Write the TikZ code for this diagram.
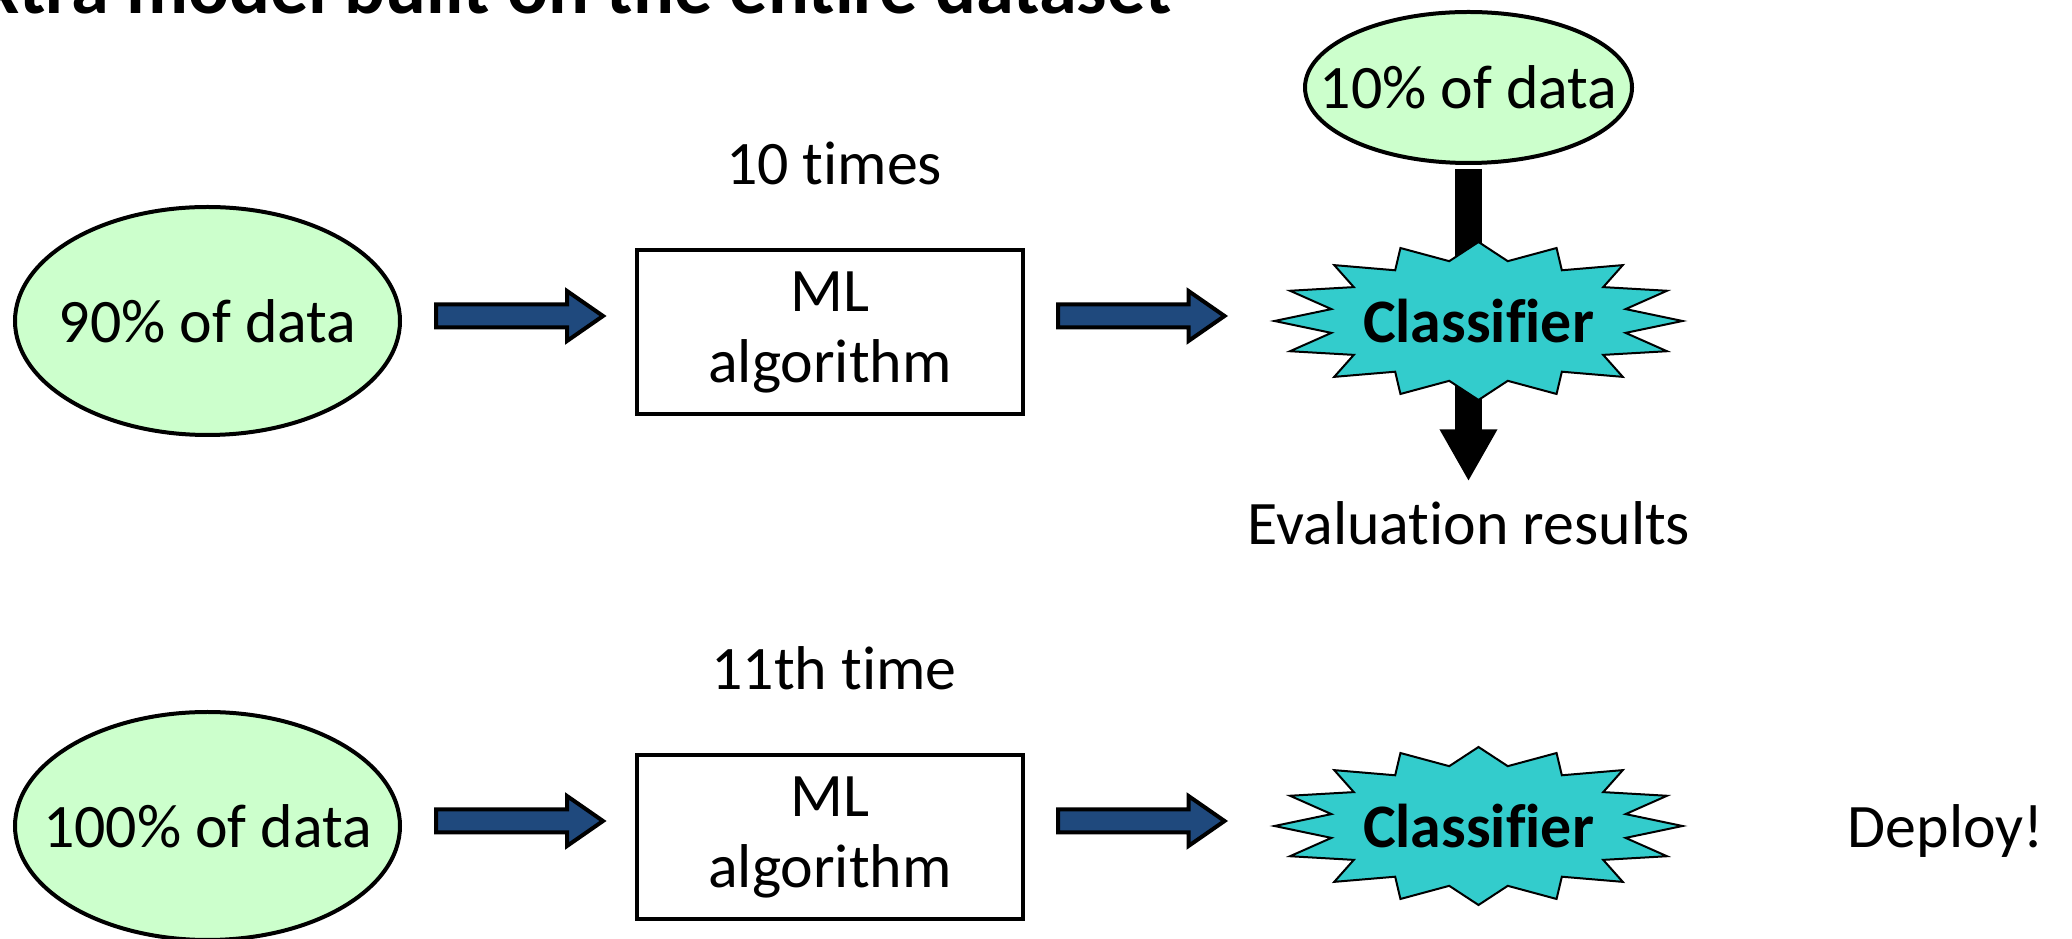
\documentclass[tikz,border=0pt]{standalone}
\usepackage{fontspec}
\setmainfont{Carlito}[Ligatures=NoCommon]
\usetikzlibrary{shapes.geometric}
\usetikzlibrary{arrows.meta}
\usetikzlibrary{calc}
\usetikzlibrary{positioning}
\definecolor{datagreen}{HTML}{CCFFCC}
\definecolor{arrowblue}{HTML}{1F497D}
\definecolor{burstcyan}{HTML}{33CCCC}
\tikzset{
    Data/.style = {ellipse, draw=black, fill=datagreen, line width=0.04cm, inner sep=0pt}
}
\tikzset{
    Algo/.style = {rectangle, draw=black, line width=0.04cm, align=center, inner sep=0pt,
        minimum width=3.86cm, minimum height=1.64cm}
}
\tikzset{
    Burst/.style = {inner sep=0pt, outer sep=0pt, minimum width=4.1cm, minimum height=1.58cm,
        font=\fontsize{17.6}{20.2}\selectfont\bfseries}
}
\tikzset{
    Fat/.style = {draw=black, fill=arrowblue, line width=0.04cm,
        to path={let \p1=(\tikztostart), \p2=(\tikztotarget) in
            (\x1,\y1+0.115cm) -- (\x2-0.36cm,\y1+0.115cm) -- (\x2-0.36cm,\y1+0.25cm)
            -- (\x2,\y1) -- (\x2-0.36cm,\y1-0.25cm) -- (\x2-0.36cm,\y1-0.115cm)
            -- (\x1,\y1-0.115cm) -- cycle}}
}
\tikzset{
    Down/.style = {draw=black, line width=0.27cm, -{Triangle[width=0.54cm,length=0.52cm]}}
}
\newcommand{\nowide}[1]{\makebox[0pt]{#1}}
\newcommand{\drawburst}[1]{%
    \draw[line width=0.02cm, fill=burstcyan] ($(#1)+(2.04,0)$)
        \foreach \k in {1,...,31}{
            -- ($(#1)+({(2.04-0.54*mod(\k,2))*cos(\k*11.25)},{(0.79-0.18*mod(\k,2))*sin(\k*11.25)})$)
        } -- cycle;}

\begin{document}
\begin{tikzpicture}[
    font=\fontsize{17.6}{20.2}\selectfont
]
\useasboundingbox (0,0) rectangle (20.72,-9.39);
\clip (0,0) rectangle (20.72,-9.39);
\node[anchor=base east, inner sep=0pt, font=\bfseries\fontsize{21.7}{26}\selectfont] at (11.72,-0.14) (title) {Extra model built on the entire dataset};
% cross-validation runs
\node[Data, minimum width=3.85cm, minimum height=2.28cm] at (2.075,-3.21) (d90) {\nowide{90\% of data}};
\node[Algo] at (8.30,-3.32) (alg1) {ML\\algorithm};
\node[anchor=base, inner sep=0pt] at (8.34,-1.85) (times1) {10 times};
\node[Data, minimum width=3.27cm, minimum height=1.51cm] at (14.685,-0.875) (d10) {\nowide{10\% of data}};
\node[anchor=base, inner sep=0pt] at (14.69,-5.45) (eval) {Evaluation results};
\path (d10.south) edge [Down, shorten <=0.04cm, shorten >=0.2cm] (d10.south |- eval.north);
\drawburst{14.785,-3.21}
\node[Burst] at (14.785,-3.21) (cls1) {Classifier};
\path ($(d90.east)+(0.34,0.05)$) edge [Fat] ($(alg1.west)+(-0.32,0)$);
\path ($(alg1.east)+(0.33,0.16)$) edge [Fat] ($(cls1.west)+(-0.49,0)$);
% final model
\node[Data, minimum width=3.85cm, minimum height=2.28cm] at (2.075,-8.26) (d100) {\nowide{100\% of data}};
\node[Algo] at (8.30,-8.37) (alg2) {ML\\algorithm};
\node[anchor=base, inner sep=0pt] at (8.34,-6.90) (times2) {11th time};
\drawburst{14.785,-8.26}
\node[Burst] at (14.785,-8.26) (cls2) {Classifier};
\node[anchor=base west, inner sep=0pt] at (18.47,-8.48) (deploy) {Deploy!};
\path ($(d100.east)+(0.34,0.05)$) edge [Fat] ($(alg2.west)+(-0.32,0)$);
\path ($(alg2.east)+(0.33,0.16)$) edge [Fat] ($(cls2.west)+(-0.49,0)$);
\end{tikzpicture}
\end{document}
